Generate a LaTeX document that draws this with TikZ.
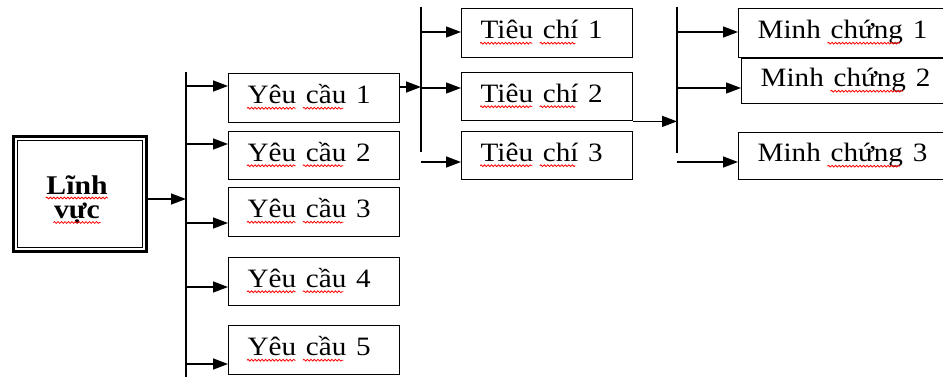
\documentclass[tikz,border=0pt]{standalone}
\usepackage{fontspec}
\setmainfont{Liberation Serif}
\usetikzlibrary{arrows.meta,decorations.pathmorphing}
\newlength\wYeu \newlength\oCau \newlength\wCau
\newlength\wTieu \newlength\oChi \newlength\wChi
\newlength\oChung \newlength\wChung
\newcommand\F{\fontsize{26.5}{32}\selectfont}
\newcommand\T[1]{\scalebox{1.1}[1]{#1}}
\newcommand\B[1]{\scalebox{1.1}[1]{#1}}
\begin{document}
\settowidth\wYeu{\F\T{Yêu}}\settowidth\oCau{\F\T{Yêu\ }}\settowidth\wCau{\F\T{cầu}}%
\settowidth\wTieu{\F\T{Tiêu}}\settowidth\oChi{\F\T{Tiêu\ }}\settowidth\wChi{\F\T{chí}}%
\settowidth\oChung{\F\T{Minh\ }}\settowidth\wChung{\F\T{chứng}}%
\begin{tikzpicture}[x=1pt,y=-1pt,line width=1.4pt,
  box/.style={draw, rectangle, anchor=north west, inner xsep=19pt, inner ysep=0pt,
    text height=17pt, text depth=6pt, align=left, font=\F},
  ycbox/.style={box, text width=133pt},
  mcbox/.style={box, text width=180pt},
  bold/.style={font=\bfseries\fontsize{27}{27}\selectfont, anchor=base, inner sep=0pt},
  arr/.style={-{Triangle[length=15pt,width=11pt]}},
  bus/.style={line width=1.6pt},
  squig/.style={draw=red, line width=0.8pt, decorate, decoration={snake, amplitude=0.9pt, segment length=3.5pt}}]
\newcommand\ul[3]{\draw[squig] ([xshift=19pt+#2, yshift=-10pt]#1.west) -- ++(#3,0);}
\useasboundingbox (0,0) rectangle (943,377);
\clip (0,0) rectangle (943,377);

% Linh vuc
\node[draw, line width=2.6pt, minimum width=133pt, minimum height=115pt, anchor=north west, inner sep=0pt] (lv) at (12.3,135.3) {};
\draw[line width=1.5pt] ([xshift=5.2pt,yshift=-5.2pt]lv.north west) rectangle ([xshift=-5.2pt,yshift=5.2pt]lv.south east);
\node[bold] (lv1) at (77,194) {\B{Lĩnh}};
\node[bold] (lv2) at (77,218.5) {\B{vực}};
\draw[squig] ([yshift=-4pt]lv1.base west) -- ([yshift=-4pt]lv1.base east);
\draw[squig] ([yshift=-4pt]lv2.base west) -- ([yshift=-4pt]lv2.base east);

% buses
\coordinate (b1t) at (186,72);
\coordinate (b1b) at (186,380);
\coordinate (b2t) at (421,7);
\coordinate (b2b) at (421,152);
\coordinate (b3t) at (677,7);
\coordinate (b3b) at (677,153);
\draw[bus] (b1t) -- (b1b);
\draw[bus] (b2t) -- (b2b);
\draw[bus] (b3t) -- (b3b);

% Yeu cau
\node[ycbox, minimum height=49pt] (yc1) at (228,73) {\T{Yêu cầu 1}};
\node[ycbox, minimum height=48pt] (yc2) at (228,131) {\T{Yêu cầu 2}};
\node[ycbox, minimum height=49pt] (yc3) at (228,187) {\T{Yêu cầu 3}};
\node[ycbox, minimum height=48pt] (yc4) at (228,257) {\T{Yêu cầu 4}};
\node[ycbox, minimum height=49pt] (yc5) at (228,325) {\T{Yêu cầu 5}};
\foreach \n in {yc1,yc2,yc3,yc4,yc5}{\ul{\n}{0pt}{\wYeu}\ul{\n}{\oCau}{\wCau}}

% Tieu chi
\node[ycbox, minimum height=49pt] (tc1) at (461,8) {\T{Tiêu chí 1}};
\node[ycbox, minimum height=48pt] (tc2) at (461,72) {\T{Tiêu chí 2}};
\node[ycbox, minimum height=48pt] (tc3) at (461,131) {\T{Tiêu chí 3}};
\foreach \n in {tc1,tc2,tc3}{\ul{\n}{0pt}{\wTieu}\ul{\n}{\oChi}{\wChi}}

% Minh chung
\node[mcbox, minimum height=49pt] (mc1) at (738,8) {\T{Minh chứng 1}};
\node[mcbox, minimum height=45pt] (mc2) at (741,58) {\T{Minh chứng 2}};
\node[mcbox, minimum height=47pt] (mc3) at (738,132) {\T{Minh chứng 3}};
\foreach \n in {mc1,mc2,mc3}{\ul{\n}{\oChung}{\wChung}}

% arrows
\draw[arr] (lv.east |- 0,199) -- (b1t |- 0,199);
\draw[arr] (b1t |- 0,86) -- (yc1.west |- 0,86);
\draw[arr] (b1t |- 0,144) -- (yc2.west |- 0,144);
\draw[arr] (b1t |- 0,223) -- (yc3.west |- 0,223);
\draw[arr] (b1t |- 0,287) -- (yc4.west |- 0,287);
\draw[arr] (b1t |- 0,364) -- (yc5.west |- 0,364);

\draw[arr] (yc1.east |- 0,87) -- (b2t |- 0,87);
\draw[arr] (b2t |- 0,32) -- (tc1.west |- 0,32);
\draw[arr] (b2t |- 0,88) -- (tc2.west |- 0,88);
\draw[arr] (b2t |- 0,162) -- (tc3.west |- 0,162);

\draw[arr] (tc2.south east) -- (b3t |- tc2.south east);
\draw[arr] (b3t |- 0,32) -- (mc1.west |- 0,32);
\draw[arr] (b3t |- 0,88) -- (mc2.west |- 0,88);
\draw[arr] (b3t |- 0,162) -- (mc3.west |- 0,162);
\end{tikzpicture}
\end{document}
